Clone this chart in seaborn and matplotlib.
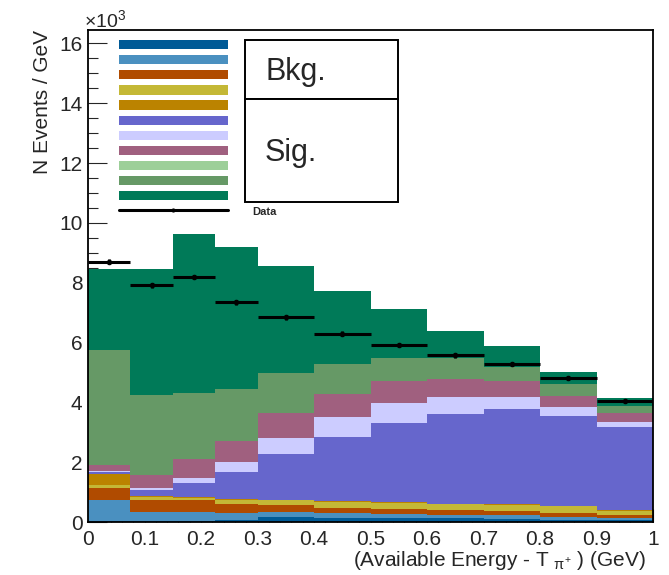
import numpy as np
import pandas as pd
import matplotlib
matplotlib.use("Agg")
import matplotlib.pyplot as plt
from matplotlib.patches import Patch, Rectangle
from matplotlib.lines import Line2D
from matplotlib.ticker import MultipleLocator, FuncFormatter
import seaborn as sns

# Binning in available energy minus pion kinetic energy (GeV)
bin_edges = [0.0, 0.075, 0.15, 0.225, 0.3, 0.4, 0.5, 0.6, 0.7, 0.8, 0.9, 1.0]

# Per-component yields (x10^3 events / GeV), listed bottom to top of the stack
comp_a = [0.03, 0.02, 0.02, 0.06, 0.18, 0.14, 0.13, 0.12, 0.11, 0.08, 0.06]
comp_b = [0.70, 0.32, 0.32, 0.25, 0.16, 0.15, 0.13, 0.11, 0.11, 0.10, 0.08]
comp_c = [0.42, 0.40, 0.40, 0.30, 0.22, 0.19, 0.18, 0.16, 0.15, 0.13, 0.09]
comp_d = [0.08, 0.08, 0.06, 0.13, 0.17, 0.19, 0.20, 0.20, 0.21, 0.21, 0.15]
comp_e = [0.37, 0.05, 0.04, 0.02, 0.02, 0.03, 0.03, 0.02, 0.02, 0.02, 0.02]
comp_f = [0.08, 0.19, 0.48, 0.92, 1.52, 2.15, 2.63, 3.00, 3.18, 2.99, 2.79]
comp_g = [0.03, 0.09, 0.14, 0.33, 0.54, 0.65, 0.67, 0.56, 0.41, 0.30, 0.17]
comp_h = [0.20, 0.43, 0.66, 0.71, 0.85, 0.78, 0.74, 0.60, 0.52, 0.37, 0.29]
comp_i = [0.00, 0.00, 0.00, 0.00, 0.00, 0.00, 0.00, 0.00, 0.00, 0.00, 0.00]
comp_j = [3.85, 2.67, 2.20, 1.72, 1.32, 1.00, 0.78, 0.72, 0.47, 0.40, 0.24]
comp_k = [2.69, 4.22, 5.31, 4.74, 3.58, 2.46, 1.62, 0.90, 0.70, 0.43, 0.25]

comp_colors = ["#005a96", "#4a90c0", "#b04b00", "#c4b836", "#bb8300",
               "#6666cc", "#ccccff", "#a0607f", "#9dcf99", "#669966", "#007a58"]

# Measured data with statistical errors
data_vals = [8.70, 7.92, 8.19, 7.35, 6.84, 6.30, 5.91, 5.57, 5.29, 4.81, 4.06]
data_errs = [0.08, 0.08, 0.08, 0.08, 0.07, 0.07, 0.07, 0.07, 0.07, 0.06, 0.06]

components = [comp_a, comp_b, comp_c, comp_d, comp_e, comp_f,
              comp_g, comp_h, comp_i, comp_j, comp_k]

sns.set_style("white")
plt.rcParams["font.family"] = ["Liberation Sans", "DejaVu Sans"]
plt.rcParams["mathtext.fontset"] = "custom"
plt.rcParams["mathtext.rm"] = "Liberation Sans"
plt.rcParams["mathtext.it"] = "Liberation Sans"
plt.rcParams["mathtext.default"] = "regular"

W, H = 669, 575
fig = plt.figure(figsize=(W / 100, H / 100), dpi=100)
ax_l, ax_r, ax_t, ax_b = 88, 653, 30, 522
ax = fig.add_axes([ax_l / W, 1 - ax_b / H, (ax_r - ax_l) / W, (ax_b - ax_t) / H])

edges = np.array(bin_edges)
centers = 0.5 * (edges[:-1] + edges[1:])
halfw = 0.5 * np.diff(edges)

# Stack: draw cumulative totals from the top layer down so lower layers paint over
cum = np.cumsum(np.array(components), axis=0)
for k in range(len(components) - 1, -1, -1):
    df = pd.DataFrame({"x": centers, "w": cum[k]})
    sns.histplot(data=df, x="x", weights="w", bins=bin_edges, element="step",
                 fill=True, color=comp_colors[k], alpha=1.0, linewidth=0, ax=ax)

ax.errorbar(centers, data_vals, xerr=halfw, yerr=data_errs, fmt="o", color="black",
            ms=3, lw=2.2, capsize=0, zorder=10)

ax.set_xlim(0, 1)
ax.set_ylim(0, 16.45)
ax.xaxis.set_major_locator(MultipleLocator(0.1))
ax.xaxis.set_minor_locator(MultipleLocator(0.02))
ax.yaxis.set_major_locator(MultipleLocator(2))
ax.yaxis.set_minor_locator(MultipleLocator(0.5))
ax.xaxis.set_major_formatter(FuncFormatter(lambda v, p: f"{v:g}"))
ax.yaxis.set_major_formatter(FuncFormatter(lambda v, p: f"{v:g}"))
ax.tick_params(axis="x", which="major", direction="in", length=9.5, width=0.8,
               labelsize=15, pad=6, bottom=True, top=False)
ax.tick_params(axis="x", which="minor", direction="in", length=5, width=0.8,
               bottom=True, top=False)
ax.tick_params(axis="y", which="major", direction="in", length=14, width=0.8,
               labelsize=15, pad=4, left=True, right=False)
ax.tick_params(axis="y", which="minor", direction="in", length=7, width=0.8,
               left=True, right=False)
for s in ax.spines.values():
    s.set_color("black")
    s.set_linewidth(1.3)

ax.set_xlabel(r"(Available Energy - T $_{\pi^{+}}$ ) (GeV)", fontsize=15, loc="right")
ax.xaxis.set_label_coords(0.988, -0.055)
ax.set_ylabel("N Events / GeV", fontsize=15, loc="top")
ax.yaxis.set_label_coords(-0.064, 1.0)

fig.text(84 / W, 1 - 27 / H, r"$\times$10$^{3}$", fontsize=14, ha="left", va="baseline")

# Legend
handles = [Patch(facecolor=c, edgecolor="none") for c in comp_colors]
handles.append(Line2D([], [], color="black", lw=2.2, marker="o", ms=2))
labels = [""] * len(comp_colors) + ["Data"]
leg = ax.legend(handles, labels, loc="upper left",
                bbox_to_anchor=(119 / W, 1 - 40 / H), bbox_transform=fig.transFigure,
                frameon=False, borderpad=0, borderaxespad=0, handlelength=9.8,
                handleheight=0.9, labelspacing=0.42, handletextpad=2.2,
                prop={"weight": "bold", "size": 8})

# Overlaid label boxes
fig.add_artist(Rectangle((245 / W, 1 - 99 / H), 153 / W, 59 / H, transform=fig.transFigure,
                         facecolor="white", edgecolor="black", lw=1.4, zorder=20))
fig.add_artist(Rectangle((245 / W, 1 - 202 / H), 153 / W, 103 / H, transform=fig.transFigure,
                         facecolor="white", edgecolor="black", lw=1.4, zorder=20))
fig.text(265 / W, 1 - 80 / H, "Bkg.", fontsize=22, ha="left", va="baseline", zorder=21)
fig.text(265 / W, 1 - 161 / H, "Sig.", fontsize=22, ha="left", va="baseline", zorder=21)

fig.savefig("out.png", dpi=100)
